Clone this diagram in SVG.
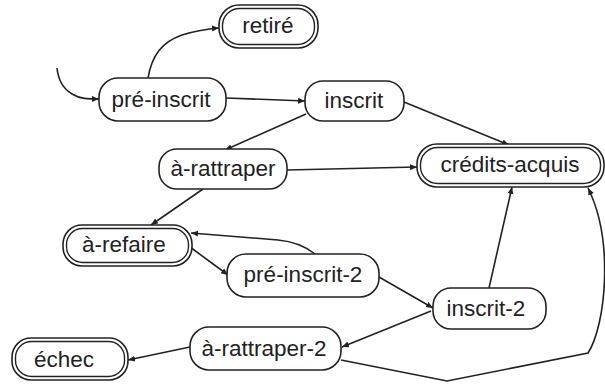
<svg xmlns="http://www.w3.org/2000/svg" width="605" height="384" viewBox="0 0 605 384">
  <style>
    .box { fill: #fff; stroke: #222; stroke-width: 1.6; }
    .inner { fill: none; stroke: #222; stroke-width: 1.4; }
    .lbl { font-family: "Liberation Sans", Arial, sans-serif; font-size: 22.5px; fill: #222; text-anchor: middle; }
    .edge { fill: none; stroke: #222; stroke-width: 1.6; marker-end: url(#arr); }
  </style>
  <defs>
    <marker id="arr" markerUnits="userSpaceOnUse" markerWidth="8" markerHeight="7" refX="7" refY="3" orient="auto">
      <path d="M0,0 L7,3 L0,6 z" fill="#222"/>
    </marker>
  </defs>
  <rect width="605" height="384" fill="#fff"/>

  <g id="connectors">
    <!-- initial transition -->
    <path class="edge" d="M57,68 C58,78 62,88 72,94 C80,99 88,99 99,99"/>
    <path class="edge" d="M148,78 C152,55 162,42 182,35 C195,31 205,29 219,28"/>
    <path class="edge" d="M226,98 L305,101"/>
    <path class="edge" d="M306,114 L225,150"/>
    <path class="edge" d="M404,102 L509,145"/>
    <path class="edge" d="M287,170 L417,167"/>
    <path class="edge" d="M203,189 L151,225"/>
    <path class="edge" d="M315,254 Q300,242 278,240 L191,233"/>
    <path class="edge" d="M190,247 L228,275"/>
    <path class="edge" d="M379,277 L433,308"/>
    <path class="edge" d="M431,311 L342,347"/>
    <path class="edge" d="M489,288 L512,187"/>
    <path class="edge" d="M341,360 L447,381 L588,353 C606,325 614,240 588,188"/>
    <path class="edge" d="M190,347 L128,360"/>
  </g>

  <g id="retire">
    <rect class="box" x="219" y="5" width="99" height="43" rx="20"/>
    <rect class="inner" x="222.5" y="8.5" width="92" height="36" rx="17"/>
    <text class="lbl" x="268" y="32.5">retiré</text>
  </g>
  <g id="pre-inscrit">
    <rect class="box" x="99" y="78" width="127" height="43" rx="19"/>
    <text class="lbl" x="161" y="106.5">pré-inscrit</text>
  </g>
  <g id="inscrit">
    <rect class="box" x="305" y="81" width="99" height="40" rx="18"/>
    <text class="lbl" x="354" y="108">inscrit</text>
  </g>
  <g id="a-rattraper">
    <rect class="box" x="159" y="149" width="128" height="40" rx="18"/>
    <text class="lbl" x="223" y="176">à-rattraper</text>
  </g>
  <g id="credits-acquis">
    <rect class="box" x="417" y="144" width="187" height="43" rx="20"/>
    <rect class="inner" x="420.5" y="147.5" width="180" height="36" rx="17"/>
    <text class="lbl" x="510" y="172">crédits-acquis</text>
  </g>
  <g id="a-refaire">
    <rect class="box" x="63" y="225" width="129" height="41" rx="19"/>
    <rect class="inner" x="66.5" y="228.5" width="122" height="34" rx="16"/>
    <text class="lbl" x="124" y="251.5">à-refaire</text>
  </g>
  <g id="pre-inscrit-2">
    <rect class="box" x="227" y="254" width="152" height="43" rx="19"/>
    <text class="lbl" x="303" y="282">pré-inscrit-2</text>
  </g>
  <g id="inscrit-2">
    <rect class="box" x="433" y="288" width="113" height="41" rx="18"/>
    <text class="lbl" x="486" y="316">inscrit-2</text>
  </g>
  <g id="a-rattraper-2">
    <rect class="box" x="190" y="327" width="151" height="43" rx="19"/>
    <text class="lbl" x="264" y="356">à-rattraper-2</text>
  </g>
  <g id="echec">
    <rect class="box" x="12" y="338" width="116" height="42" rx="19"/>
    <rect class="inner" x="15.5" y="341.5" width="109" height="35" rx="16"/>
    <text class="lbl" x="64" y="367">échec</text>
  </g>
</svg>
